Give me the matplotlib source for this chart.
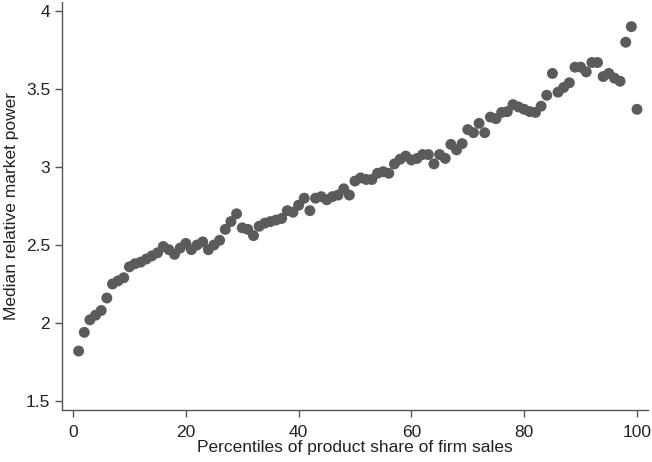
import matplotlib
matplotlib.use("Agg")
import matplotlib.pyplot as plt

plt.rcParams['font.family'] = ['Liberation Sans', 'DejaVu Sans']

# percentiles 1..100 and median relative market power
pct = list(range(1, 101))
power = [
    1.82, 1.94, 2.02, 2.05, 2.08, 2.16, 2.25, 2.27, 2.29, 2.36,
    2.38, 2.39, 2.41, 2.43, 2.45, 2.49, 2.47, 2.44, 2.48, 2.51,
    2.47, 2.50, 2.52, 2.47, 2.50, 2.53, 2.60, 2.65, 2.70, 2.61,
    2.60, 2.56, 2.62, 2.64, 2.65, 2.66, 2.67, 2.72, 2.71, 2.755,
    2.80, 2.72, 2.80, 2.81, 2.79, 2.81, 2.82, 2.86, 2.82, 2.91,
    2.93, 2.92, 2.92, 2.96, 2.97, 2.96, 3.02, 3.05, 3.07, 3.045,
    3.055, 3.08, 3.08, 3.02, 3.08, 3.055, 3.145, 3.11, 3.15, 3.24,
    3.22, 3.28, 3.22, 3.32, 3.31, 3.35, 3.355, 3.40, 3.385, 3.37,
    3.355, 3.35, 3.39, 3.46, 3.60, 3.48, 3.51, 3.54, 3.64, 3.64,
    3.61, 3.67, 3.67, 3.58, 3.60, 3.57, 3.55, 3.80, 3.90, 3.37,
]
xticks = [0, 20, 40, 60, 80, 100]
yticks = [1.5, 2, 2.5, 3, 3.5, 4]
yticklabels = ['1.5', '2', '2.5', '3', '3.5', '4']

fig = plt.figure(figsize=(6.52, 4.62), dpi=100)
ax = fig.add_axes([62/652, 52/462, 586/652, 408/462])

ax.scatter(pct, power, s=62, color='#5b5b5b', edgecolors='none', zorder=3)

ax.set_xlim(-1.95, 101.95)
ax.set_ylim(1.442, 4.058)
ax.set_xticks(xticks)
ax.set_yticks(yticks)
ax.set_yticklabels(yticklabels)

for side in ['top', 'right']:
    ax.spines[side].set_visible(False)
for side in ['left', 'bottom']:
    ax.spines[side].set_color('#555555')
    ax.spines[side].set_linewidth(1.0)
ax.tick_params(direction='out', length=5, width=1, color='#555555',
               labelsize=12.5, labelcolor='#222222')
ax.tick_params(axis='x', pad=6)

ax.set_xlabel('Percentiles of product share of firm sales', fontsize=12.5,
              color='#222222', labelpad=0)
ax.set_ylabel('Median relative market power', fontsize=12.5,
              color='#222222', labelpad=5)

fig.savefig('out.png', dpi=100)
